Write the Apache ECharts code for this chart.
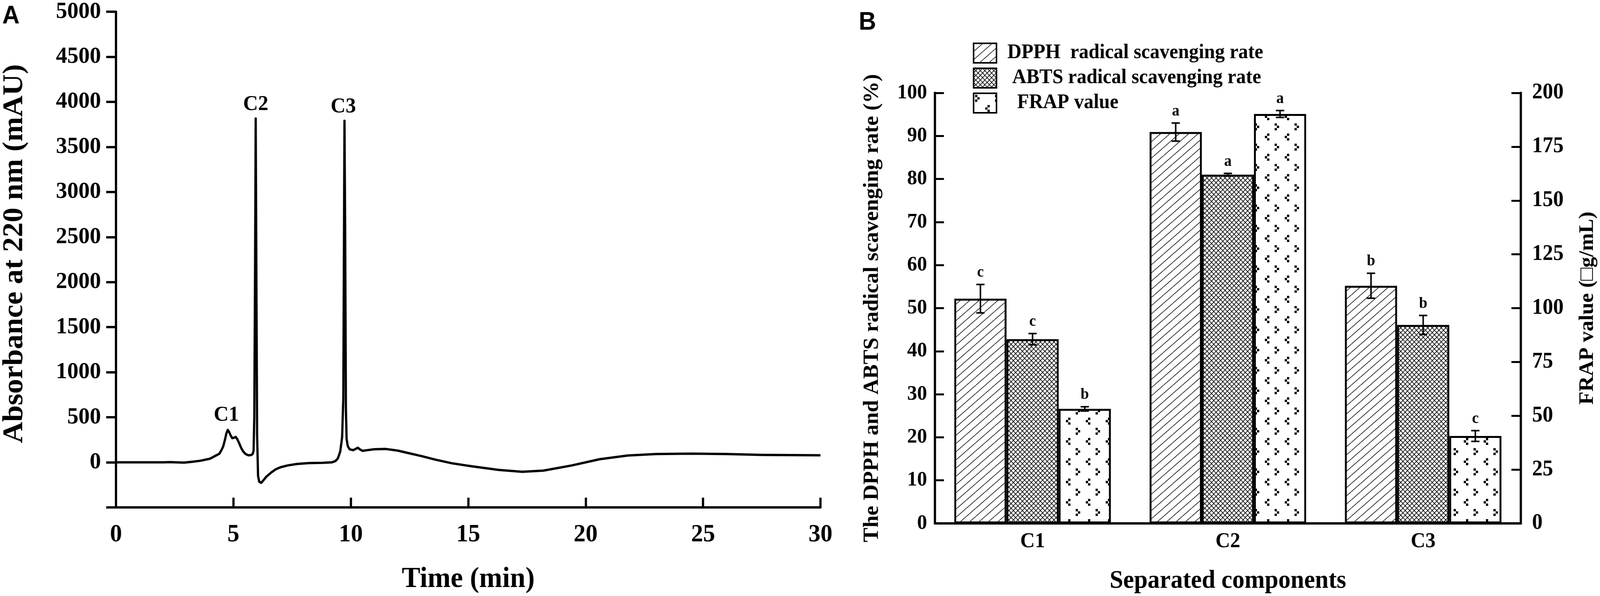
<!DOCTYPE html>
<html>
<head>
    <meta charset="utf-8">
    <title>HPLC chromatogram and antioxidant activity</title>
    <script src="https://cdn.jsdelivr.net/npm/echarts@6/dist/echarts.min.js"></script>
    <style>
        html, body { margin: 0; padding: 0; background: #fff; overflow: hidden; }
        #main { width: 4263px; height: 1527px; transform-origin: 0 0; }
    </style>
</head>
<body>
<div id="main"></div>
<script type="text/javascript">
    // ---- panel A: chromatogram (time in min, absorbance in mAU) ----
    var timeMin = [0, 1, 2, 2.3, 2.9, 3.3, 3.6, 4.0, 4.25, 4.4, 4.5, 4.57, 4.64, 4.7, 4.76, 4.82, 4.88, 4.95,
        5.02, 5.1, 5.17, 5.25, 5.33, 5.42, 5.52, 5.64, 5.75, 5.82, 5.86, 5.89, 5.92, 5.95, 5.98, 6.01, 6.05,
        6.1, 6.18, 6.26, 6.4, 6.6, 6.8, 7.0, 7.3, 7.7, 8.2, 8.8, 9.2, 9.35, 9.45, 9.55, 9.63, 9.68, 9.71,
        9.73, 9.76, 9.79, 9.82, 9.87, 9.95, 10.1, 10.25, 10.3, 10.38, 10.5, 10.7, 11.0, 11.5, 12.0, 12.5,
        13.0, 13.6, 14.3, 15.1, 16.3, 17.3, 18.2, 19.4, 20.6, 21.8, 23.0, 24.5, 26.0, 27.5, 30];
    var absorbance = [0, 0, 0, 2, -3, 8, 18, 40, 75, 95, 140, 180, 250, 320, 360, 335, 300, 268,
        272, 282, 255, 210, 160, 120, 92, 78, 80, 92, 130, 500, 2000, 3815, 2000, 300, -150,
        -215, -228, -205, -160, -115, -78, -55, -35, -18, -8, -5, 0, 15, 45, 120, 280, 700, 2500,
        3790, 2500, 600, 260, 180, 145, 135, 155, 162, 145, 128, 135, 145, 148, 130, 100,
        70, 30, -10, -42, -84, -105, -92, -35, 35, 76, 92, 97, 92, 82, 78];
    var peakNames = ['C1', 'C2', 'C3'];
    var peakTimes = [4.7, 5.95, 9.68];
    var peakHeights = [370, 3815, 3790];

    // ---- panel B: antioxidant activity of the separated components ----
    var components = ['C1', 'C2', 'C3'];
    var dpphRate = [52.2, 90.9, 55.2];
    var dpphErr = [3.3, 2.1, 2.9];
    var dpphSig = ['c', 'a', 'b'];
    var abtsRate = [42.8, 81.0, 46.1];
    var abtsErr = [1.3, 0.3, 2.2];
    var abtsSig = ['c', 'a', 'b'];
    var frapValue = [53.2, 190.2, 40.6];
    var frapErr = [1.0, 1.6, 2.5];
    var frapSig = ['b', 'a', 'c'];

    var SERIF = '"Liberation Serif", "Times New Roman", serif';
    var BAR_W = 139;
    var CAP = 11;

    // the drawing is laid out at 4263 x 1527; squeeze it into the real viewport
    var mainEl = document.getElementById('main');
    var vw = document.documentElement.clientWidth || window.innerWidth;
    var vh = document.documentElement.clientHeight || window.innerHeight;
    mainEl.style.transform = 'scale(' + (vw / 4263) + ',' + (vh / 1527) + ')';

    // fill patterns
    function diagCanvas(w, h, lw) {
        var c = document.createElement('canvas');
        c.width = w; c.height = h;
        var g = c.getContext('2d');
        g.fillStyle = '#fff'; g.fillRect(0, 0, w, h);
        g.strokeStyle = '#000'; g.lineWidth = lw;
        g.beginPath();
        for (var k = -1; k <= 1; k++) { g.moveTo(k * w, h); g.lineTo(k * w + w, 0); }
        g.stroke();
        return c;
    }
    function crossCanvas(w, h, lw) {
        var c = document.createElement('canvas');
        c.width = w; c.height = h;
        var g = c.getContext('2d');
        g.fillStyle = '#fff'; g.fillRect(0, 0, w, h);
        g.strokeStyle = '#000'; g.lineWidth = lw;
        g.beginPath();
        for (var k = -1; k <= 1; k++) {
            g.moveTo(k * w, h); g.lineTo(k * w + w, 0);
            g.moveTo(k * w, 0); g.lineTo(k * w + w, h);
        }
        g.stroke();
        return c;
    }
    function chevronCanvas(w, h, s) {
        var c = document.createElement('canvas');
        c.width = w; c.height = h;
        var g = c.getContext('2d');
        g.fillStyle = '#fff'; g.fillRect(0, 0, w, h);
        g.fillStyle = '#000';
        // ">" mark
        var x = 4, y = 4;
        g.fillRect(x, y, s, s); g.fillRect(x + s, y + s, s, s); g.fillRect(x, y + 2 * s, s, s);
        // "<" mark, offset half a tile
        x = Math.round(w / 2) + 4; y = Math.round(h / 2) + 4;
        g.fillRect(x + s, y, s, s); g.fillRect(x, y + s, s, s); g.fillRect(x + s, y + 2 * s, s, s);
        return c;
    }

    var dpphFill = { image: diagCanvas(25, 21, 1.6), repeat: 'repeat' };
    var abtsFill = { image: crossCanvas(12, 12, 1.6), repeat: 'repeat' };
    var frapFill = { image: chevronCanvas(53, 52, 6), repeat: 'repeat' };

    function errorSeries(values, errs, sig, slot, yAxisIndex) {
        return {
            type: 'custom',
            xAxisIndex: 1,
            yAxisIndex: yAxisIndex,
            z: 5,
            silent: true,
            data: values.map(function (v, i) { return [i, v, errs[i]]; }),
            renderItem: function (params, api) {
                var i = api.value(0), v = api.value(1), e = api.value(2);
                var hi = api.coord([i, v + e]);
                var lo = api.coord([i, v - e]);
                var x = hi[0] + (slot - 1) * BAR_W;
                var st = { stroke: '#000', lineWidth: 4 };
                return {
                    type: 'group',
                    children: [
                        { type: 'line', shape: { x1: x, y1: hi[1], x2: x, y2: lo[1] }, style: st },
                        { type: 'line', shape: { x1: x - CAP, y1: hi[1], x2: x + CAP, y2: hi[1] }, style: st },
                        { type: 'line', shape: { x1: x - CAP, y1: lo[1], x2: x + CAP, y2: lo[1] }, style: st },
                        {
                            type: 'text', x: x, y: hi[1] - 10,
                            style: {
                                text: sig[params.dataIndex], textAlign: 'center', textVerticalAlign: 'bottom',
                                font: 'bold 40px ' + SERIF, fill: '#000'
                            }
                        }
                    ]
                };
            }
        };
    }

    function barSeries(name, values, fill, yAxisIndex) {
        return {
            name: name,
            type: 'bar',
            xAxisIndex: 1,
            yAxisIndex: yAxisIndex,
            barWidth: BAR_W,
            barGap: '0%',
            data: values,
            itemStyle: { color: fill, borderColor: '#000', borderWidth: 5 }
        };
    }

    var tickFont = { fontFamily: SERIF, fontWeight: 'bold', color: '#000' };

    var myChart = echarts.init(mainEl);
    myChart.setOption({
        animation: false,
        backgroundColor: '#fff',
        graphic: [
            { type: 'text', left: 6, top: 10, style: { text: 'A', font: 'bold 64px "Liberation Sans", Arial, sans-serif', fill: '#000' } },
            { type: 'text', left: 2288, top: 26, style: { text: 'B', font: 'bold 64px "Liberation Sans", Arial, sans-serif', fill: '#000' } }
        ],
        legend: {
            orient: 'vertical',
            left: 2587,
            top: 104,
            icon: 'rect',
            itemWidth: 61,
            itemHeight: 50,
            itemGap: 10,
            selectedMode: false,
            itemStyle: { borderColor: '#000', borderWidth: 4 },
            textStyle: { fontFamily: SERIF, fontWeight: 'bold', fontSize: 52, color: '#000', padding: [0, 0, 0, 24] },
            data: ['DPPH  radical scavenging rate', ' ABTS radical scavenging rate', '  FRAP value']
        },
        grid: [
            { left: 307, right: 2077, top: 22, bottom: 200 },
            { left: 2491, right: 211, top: 238, bottom: 179 }
        ],
        xAxis: [
            {
                gridIndex: 0,
                type: 'value',
                min: 0, max: 30, interval: 5,
                name: 'Time (min)',
                nameLocation: 'middle',
                nameGap: 148,
                nameTextStyle: { fontFamily: SERIF, fontWeight: 'bold', fontSize: 74, color: '#000' },
                axisLine: { onZero: false, lineStyle: { color: '#000', width: 6 } },
                axisTick: { inside: true, length: 25, lineStyle: { color: '#000', width: 6 } },
                axisLabel: Object.assign({ fontSize: 64, margin: 38 }, tickFont),
                splitLine: { show: false }
            },
            {
                gridIndex: 1,
                type: 'category',
                data: components,
                name: 'Separated components',
                nameLocation: 'middle',
                nameGap: 116,
                nameTextStyle: { fontFamily: SERIF, fontWeight: 'bold', fontSize: 65, color: '#000' },
                axisLine: { onZero: false, lineStyle: { color: '#000', width: 6 } },
                axisTick: { show: false },
                axisLabel: Object.assign({ fontSize: 54, margin: 20 }, tickFont),
                splitLine: { show: false }
            }
        ],
        yAxis: [
            {
                gridIndex: 0,
                type: 'value',
                min: -500, max: 5000, interval: 500,
                name: 'Absorbance at 220 nm (mAU)',
                nameLocation: 'middle',
                nameRotate: 90,
                nameGap: 232,
                nameTextStyle: { fontFamily: SERIF, fontWeight: 'bold', fontSize: 76, color: '#000', padding: [0, 0, 0, 30] },
                axisLine: { show: true, onZero: false, lineStyle: { color: '#000', width: 6 } },
                axisTick: { show: true, inside: false, length: 26, lineStyle: { color: '#000', width: 6 } },
                axisLabel: Object.assign({
                    fontSize: 60, margin: 40,
                    formatter: function (v) { return v < 0 ? '' : v; }
                }, tickFont),
                splitLine: { show: false }
            },
            {
                gridIndex: 1,
                type: 'value',
                min: 0, max: 100, interval: 10,
                name: 'The DPPH and ABTS radical scavenging rate (%)',
                nameLocation: 'middle',
                nameRotate: 90,
                nameGap: 138,
                nameTextStyle: { fontFamily: SERIF, fontWeight: 'bold', fontSize: 56, color: '#000' },
                axisLine: { show: true, onZero: false, lineStyle: { color: '#000', width: 6 } },
                axisTick: { show: true, inside: true, length: 24, lineStyle: { color: '#000', width: 5 } },
                axisLabel: Object.assign({ fontSize: 53, margin: 21, padding: [16, 0, 0, 0] }, tickFont),
                splitLine: { show: false }
            },
            {
                gridIndex: 1,
                type: 'value',
                position: 'right',
                min: 0, max: 200, interval: 25,
                name: 'FRAP value (\u25A1g/mL)',
                nameLocation: 'middle',
                nameRotate: 90,
                nameGap: 150,
                nameTextStyle: { fontFamily: SERIF, fontWeight: 'bold', fontSize: 55, color: '#000' },
                axisLine: { show: true, onZero: false, lineStyle: { color: '#000', width: 6 } },
                axisTick: { show: true, inside: true, length: 25, lineStyle: { color: '#000', width: 5 } },
                axisLabel: Object.assign({ fontSize: 56, margin: 30 }, tickFont),
                splitLine: { show: false }
            }
        ],
        series: [
            {
                type: 'line',
                xAxisIndex: 0,
                yAxisIndex: 0,
                showSymbol: false,
                smooth: false,
                lineStyle: { color: '#000', width: 6, join: 'round' },
                data: timeMin.map(function (t, i) { return [t, absorbance[i]]; })
            },
            {
                // peak names written just above each peak
                type: 'custom',
                xAxisIndex: 0,
                yAxisIndex: 0,
                silent: true,
                z: 4,
                data: peakTimes.map(function (t, i) { return [t, peakHeights[i]]; }),
                renderItem: function (params, api) {
                    var p = api.coord([api.value(0), api.value(1)]);
                    return {
                        type: 'text', x: p[0], y: p[1] - 8,
                        style: {
                            text: peakNames[params.dataIndex], textAlign: 'center', textVerticalAlign: 'bottom',
                            font: 'bold 55px ' + SERIF, fill: '#000'
                        }
                    };
                }
            },
            barSeries('DPPH  radical scavenging rate', dpphRate, dpphFill, 1),
            barSeries(' ABTS radical scavenging rate', abtsRate, abtsFill, 1),
            barSeries('  FRAP value', frapValue, frapFill, 2),
            errorSeries(dpphRate, dpphErr, dpphSig, 0, 1),
            errorSeries(abtsRate, abtsErr, abtsSig, 1, 1),
            errorSeries(frapValue, frapErr, frapSig, 2, 2)
        ]
    });
</script>
</body>
</html>
